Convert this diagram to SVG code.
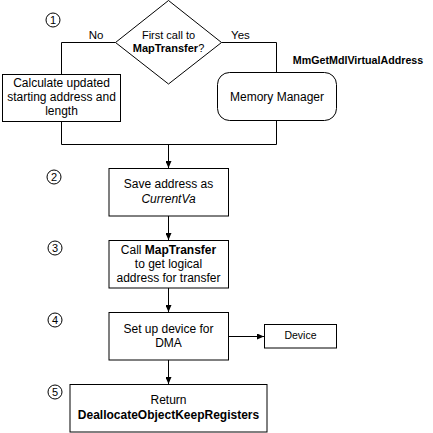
<svg xmlns="http://www.w3.org/2000/svg" width="433" height="433" viewBox="0 0 433 433">
<defs>
<marker id="ah" markerWidth="7" markerHeight="6" refX="7" refY="3" orient="auto" markerUnits="userSpaceOnUse">
<path d="M0,0 L7,3 L0,6 Z" fill="#000"/>
</marker>
</defs>
<style>
.box{fill:#fff;stroke:#000;stroke-width:1}
.ln{fill:none;stroke:#000;stroke-width:1}
.t{font-family:"Liberation Sans",Arial,sans-serif;font-size:12px;fill:#000;text-anchor:middle}
.b{font-weight:bold}
.i{font-style:italic}
.s11{font-size:11px}
.s115{font-size:11.5px}
.s105{font-size:10.5px}
.s107{font-size:10.7px}
.num{font-family:"Liberation Sans",Arial,sans-serif;font-size:11px;fill:#000;text-anchor:middle}
.c{fill:#fff;stroke:#000;stroke-width:1}
</style>
<rect width="433" height="433" fill="#fff"/>
<g id="connectors">
<polyline class="ln" points="115.5,42.5 61.5,42.5 61.5,74"/>
<polyline class="ln" points="221.5,42.5 276.5,42.5 276.5,72"/>
<polyline class="ln" points="61.5,121 61.5,144.5 276.5,144.5 276.5,121"/>
<line class="ln" x1="168.5" y1="144.5" x2="168.5" y2="168" marker-end="url(#ah)"/>
<line class="ln" x1="168.5" y1="216" x2="168.5" y2="240" marker-end="url(#ah)"/>
<line class="ln" x1="168.5" y1="288" x2="168.5" y2="312" marker-end="url(#ah)"/>
<line class="ln" x1="168.5" y1="360" x2="168.5" y2="384" marker-end="url(#ah)"/>
<line class="ln" x1="228.5" y1="336.5" x2="264" y2="336.5" marker-end="url(#ah)"/>
</g>
<g id="decision">
<polygon class="box" points="168.5,0.5 221.5,42.5 168.5,84 115.5,42.5"/>
<text class="t s11" x="168.5" y="39">First call to</text>
<text class="t s11" x="168.5" y="52"><tspan class="b">MapTransfer</tspan>?</text>
</g>
<g id="label-no"><text class="t s115" x="96" y="39">No</text></g>
<g id="label-yes"><text class="t s115" x="240.5" y="39">Yes</text></g>
<g id="calc">
<rect class="box" x="2.5" y="74.5" width="118" height="47"/>
<text class="t" x="61.5" y="86.5">Calculate updated</text>
<text class="t" x="61.5" y="100.5">starting address and</text>
<text class="t" x="61.5" y="114.5">length</text>
</g>
<g id="memmgr">
<rect class="box" x="217.5" y="72.5" width="119" height="48" rx="12" ry="12"/>
<text class="t" x="277" y="100.5">Memory Manager</text>
</g>
<g id="mmget">
<text class="t b s107" x="358" y="64">MmGetMdlVirtualAddress</text>
</g>
<g id="save">
<rect class="box" x="109" y="168.5" width="119.5" height="47.5"/>
<text class="t" x="168.5" y="188">Save address as</text>
<text class="t i" x="168.5" y="203">CurrentVa</text>
</g>
<g id="call">
<rect class="box" x="109" y="240.5" width="119.5" height="47.5"/>
<text class="t" x="168.5" y="254">Call <tspan class="b">MapTransfer</tspan></text>
<text class="t" x="168.5" y="268">to get logical</text>
<text class="t" x="168.5" y="282">address for transfer</text>
</g>
<g id="setup">
<rect class="box" x="109" y="312.5" width="119.5" height="47.5"/>
<text class="t" x="168.5" y="333">Set up device for</text>
<text class="t" x="168.5" y="347">DMA</text>
</g>
<g id="device">
<rect class="box" x="264.5" y="324.5" width="72" height="23.5"/>
<text class="t s105" x="300.5" y="339">Device</text>
</g>
<g id="return">
<rect class="box" x="70" y="384.5" width="197" height="47.5"/>
<text class="t" x="168.5" y="404">Return</text>
<text class="t b" x="168.5" y="419">DeallocateObjectKeepRegisters</text>
</g>
<g id="step1"><circle class="c" cx="53" cy="20" r="7"/><text class="num" x="53" y="24">1</text></g>
<g id="step2"><circle class="c" cx="54" cy="177" r="7"/><text class="num" x="54" y="181">2</text></g>
<g id="step3"><circle class="c" cx="55" cy="248" r="7"/><text class="num" x="55" y="252">3</text></g>
<g id="step4"><circle class="c" cx="55" cy="320" r="7"/><text class="num" x="55" y="324">4</text></g>
<g id="step5"><circle class="c" cx="55" cy="392" r="7"/><text class="num" x="55" y="396">5</text></g>
</svg>
